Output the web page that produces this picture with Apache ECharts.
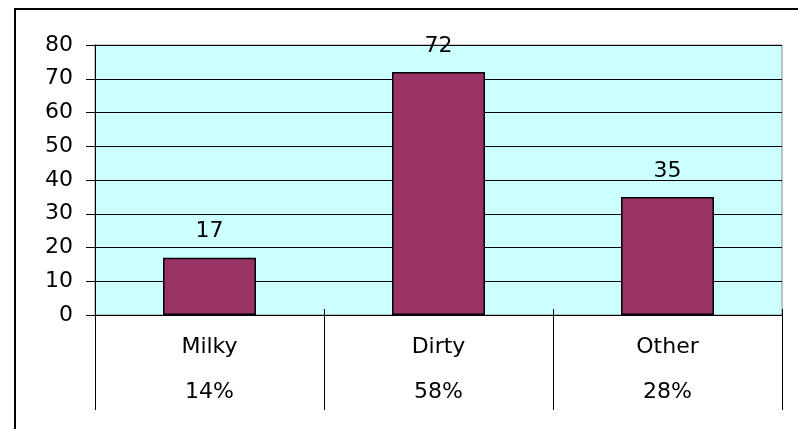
<!DOCTYPE html>
<html>
<head>
<meta charset="utf-8">
<script src="https://cdn.jsdelivr.net/npm/echarts@6/dist/echarts.min.js"></script>
<style>html,body{margin:0;padding:0;background:#fff;}#c{width:798px;height:429px;}</style>
</head>
<body>
<div id="c"></div>
<script>
var categories = ['Milky', 'Dirty', 'Other'];
var percents = ['14%', '58%', '28%'];
var values = [17, 72, 35];
var yTicks = { min: 0, max: 80, interval: 10 };

var FONT = 'DejaVu Sans';
var FS = 22;

var chart = echarts.init(document.getElementById('c'), null, { renderer: 'canvas' });
chart.setOption({
  animation: false,
  backgroundColor: '#ffffff',
  graphic: [{
    type: 'rect',
    shape: { x: 15, y: 9, width: 820, height: 440 },
    style: { fill: null, stroke: '#000', lineWidth: 2 },
    z: 0
  }],
  grid: {
    left: 95, top: 45, right: 16, bottom: 114,
    show: true, backgroundColor: '#CCFFFF', borderColor: '#888888', borderWidth: 1
  },
  xAxis: [{
    type: 'category',
    data: categories.map(function (c, i) { return c + '\n' + percents[i]; }),
    axisLine: { show: true, lineStyle: { color: '#000', width: 1 } },
    axisTick: { show: true, length: 95, lineStyle: { color: '#000', width: 1 } },
    axisLabel: {
      color: '#000', fontFamily: FONT, fontSize: FS, lineHeight: 45, margin: 10
    },
    splitLine: { show: false }
  }, {
    type: 'category',
    position: 'bottom',
    data: categories,
    axisLine: { show: false },
    axisTick: { show: true, inside: true, length: 6, lineStyle: { color: '#000', width: 1 } },
    axisLabel: { show: false },
    splitLine: { show: false }
  }],
  yAxis: {
    type: 'value',
    min: yTicks.min, max: yTicks.max, interval: yTicks.interval,
    axisLine: { show: true, lineStyle: { color: '#000', width: 1 } },
    axisTick: { show: true, length: 9, lineStyle: { color: '#000', width: 1 } },
    axisLabel: { color: '#000', fontFamily: FONT, fontSize: FS, margin: 22 },
    splitLine: { show: true, lineStyle: { color: '#000', width: 1 } }
  },
  series: [{
    type: 'bar',
    data: values,
    barWidth: '40.6%',
    itemStyle: { color: '#993366', borderColor: '#000', borderWidth: 1.5 },
    label: {
      show: true, position: 'top', distance: 15,
      color: '#000', fontFamily: FONT, fontSize: FS
    }
  }]
});
</script>
</body>
</html>
